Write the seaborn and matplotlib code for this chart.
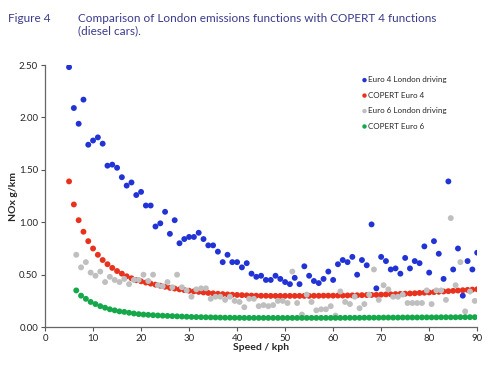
import matplotlib
matplotlib.use("Agg")
import matplotlib.pyplot as plt
import numpy as np
import pandas as pd
import seaborn as sns

# speeds (kph)
speed_int = list(range(5, 91))                       # Euro 4 series
speed_half = [s + 0.5 for s in range(6, 90)]         # Euro 6 series

euro4_london = [2.48, 2.09, 1.94, 2.17, 1.74, 1.78, 1.81, 1.75, 1.54, 1.55,
                1.52, 1.43, 1.35, 1.38, 1.26, 1.29, 1.16, 1.16, 0.96, 0.99,
                1.10, 0.89, 1.02, 0.80, 0.84, 0.86, 0.86, 0.90, 0.84, 0.78,
                0.78, 0.72, 0.62, 0.69, 0.62, 0.62, 0.57, 0.61, 0.51, 0.48,
                0.49, 0.45, 0.45, 0.49, 0.46, 0.43, 0.41, 0.47, 0.41, 0.58,
                0.49, 0.44, 0.42, 0.46, 0.53, 0.45, 0.60, 0.64, 0.62, 0.67,
                0.50, 0.64, 0.59, 0.98, 0.37, 0.67, 0.63, 0.55, 0.56, 0.51,
                0.66, 0.56, 0.63, 0.61, 0.77, 0.52, 0.82, 0.70, 0.46, 1.39,
                0.55, 0.75, 0.30, 0.63, 0.55, 0.71]

copert_euro4 = [1.39, 1.17, 1.02, 0.91, 0.82, 0.75, 0.69, 0.64, 0.60, 0.565,
                0.535, 0.51, 0.485, 0.466, 0.447, 0.437, 0.425, 0.415, 0.405, 0.395,
                0.385, 0.375, 0.368, 0.36, 0.353, 0.347, 0.341, 0.336, 0.331, 0.326,
                0.322, 0.318, 0.315, 0.312, 0.309, 0.307, 0.305, 0.303, 0.301, 0.300,
                0.299, 0.299, 0.298, 0.298, 0.298, 0.298, 0.298, 0.298, 0.298, 0.298,
                0.298, 0.299, 0.299, 0.300, 0.300, 0.300, 0.301, 0.301, 0.302, 0.303,
                0.304, 0.305, 0.306, 0.307, 0.308, 0.310, 0.312, 0.313, 0.315, 0.317,
                0.319, 0.321, 0.323, 0.326, 0.328, 0.331, 0.334, 0.337, 0.340, 0.343,
                0.346, 0.349, 0.352, 0.355, 0.358, 0.361]

euro6_london = [0.69, 0.57, 0.62, 0.52, 0.49, 0.53, 0.43, 0.48, 0.45, 0.43,
                0.46, 0.41, 0.45, 0.45, 0.50, 0.44, 0.50, 0.40, 0.39, 0.43,
                0.38, 0.50, 0.38, 0.35, 0.29, 0.36, 0.37, 0.37, 0.27, 0.29,
                0.29, 0.26, 0.29, 0.25, 0.24, 0.19, 0.27, 0.27, 0.20, 0.21,
                0.20, 0.21, 0.25, 0.25, 0.23, 0.53, 0.23, 0.12, 0.31, 0.24,
                0.16, 0.17, 0.17, 0.20, 0.11, 0.34, 0.24, 0.22, 0.29, 0.18,
                0.22, 0.31, 0.55, 0.26, 0.40, 0.36, 0.29, 0.29, 0.31, 0.23,
                0.23, 0.23, 0.23, 0.35, 0.22, 0.35, 0.35, 0.26, 1.04, 0.40,
                0.62, 0.15, 0.34, 0.25]

copert_euro6 = [0.35, 0.30, 0.27, 0.24, 0.22, 0.20, 0.185, 0.17, 0.16, 0.15,
                0.145, 0.137, 0.13, 0.124, 0.12, 0.117, 0.114, 0.111, 0.109, 0.107,
                0.105, 0.103, 0.101, 0.099, 0.097, 0.096, 0.095, 0.094, 0.093, 0.092,
                0.091, 0.090, 0.090, 0.089, 0.089, 0.088, 0.088, 0.088, 0.088, 0.088,
                0.088, 0.088, 0.088, 0.088, 0.088, 0.088, 0.088, 0.088, 0.088, 0.088,
                0.088, 0.088, 0.088, 0.088, 0.088, 0.088, 0.089, 0.089, 0.089, 0.089,
                0.090, 0.090, 0.090, 0.090, 0.091, 0.091, 0.091, 0.091, 0.092, 0.092,
                0.092, 0.092, 0.093, 0.093, 0.093, 0.093, 0.094, 0.094, 0.094, 0.094,
                0.095, 0.095, 0.095, 0.095]

series = [
    ("Euro 4 London driving", speed_int, euro4_london, "#2233d6"),
    ("COPERT Euro 4", speed_int, copert_euro4, "#e8321e"),
    ("Euro 6 London driving", speed_half, euro6_london, "#bfbfbf"),
    ("COPERT Euro 6", speed_half, copert_euro6, "#14a84a"),
]

sns.set_style("white")
plt.rcParams['font.family'] = ['Lato', 'DejaVu Sans']

fig = plt.figure(figsize=(4.95, 3.76), dpi=100)
ax = fig.add_axes([0.091, 0.130, 0.873, 0.697])

for name, xs, ys, col in series:
    sns.scatterplot(x=xs, y=ys, color=col, s=18, edgecolor="none", label=name, ax=ax)

ax.set_xlim(0, 90)
ax.set_ylim(0, 2.5)
ax.set_xticks(range(0, 91, 10))
ax.set_yticks(np.arange(0, 2.51, 0.5))
ax.set_yticklabels([f"{v:.2f}" for v in np.arange(0, 2.51, 0.5)])
ax.tick_params(axis="both", labelsize=7, length=3, width=0.8, color="#555555",
               direction="out", left=True, bottom=True, pad=2)
sns.despine(ax=ax)
for sp in ("left", "bottom"):
    ax.spines[sp].set_color("#666666")
    ax.spines[sp].set_linewidth(0.9)

ax.set_xlabel("Speed / kph", fontsize=7.5, fontweight="bold", labelpad=0)
ax.set_ylabel("NOx g/km", fontsize=7.5, fontweight="bold", labelpad=1)

leg = ax.legend(loc="upper left", bbox_to_anchor=(0.715, 0.985), frameon=False,
                fontsize=5.8, handletextpad=0.0, markerscale=0.75,
                labelspacing=1.05, handlelength=0.8)

title_col = "#3a3a8c"
fig.text(0.016, 0.950, "Figure 4", fontsize=8.5, color=title_col, va="center")
fig.text(0.158, 0.966, "Comparison of London emissions functions with COPERT 4 functions\n(diesel cars).",
         fontsize=8.5, color=title_col, va="top", linespacing=1.15)

fig.savefig("out.png", dpi=100)
